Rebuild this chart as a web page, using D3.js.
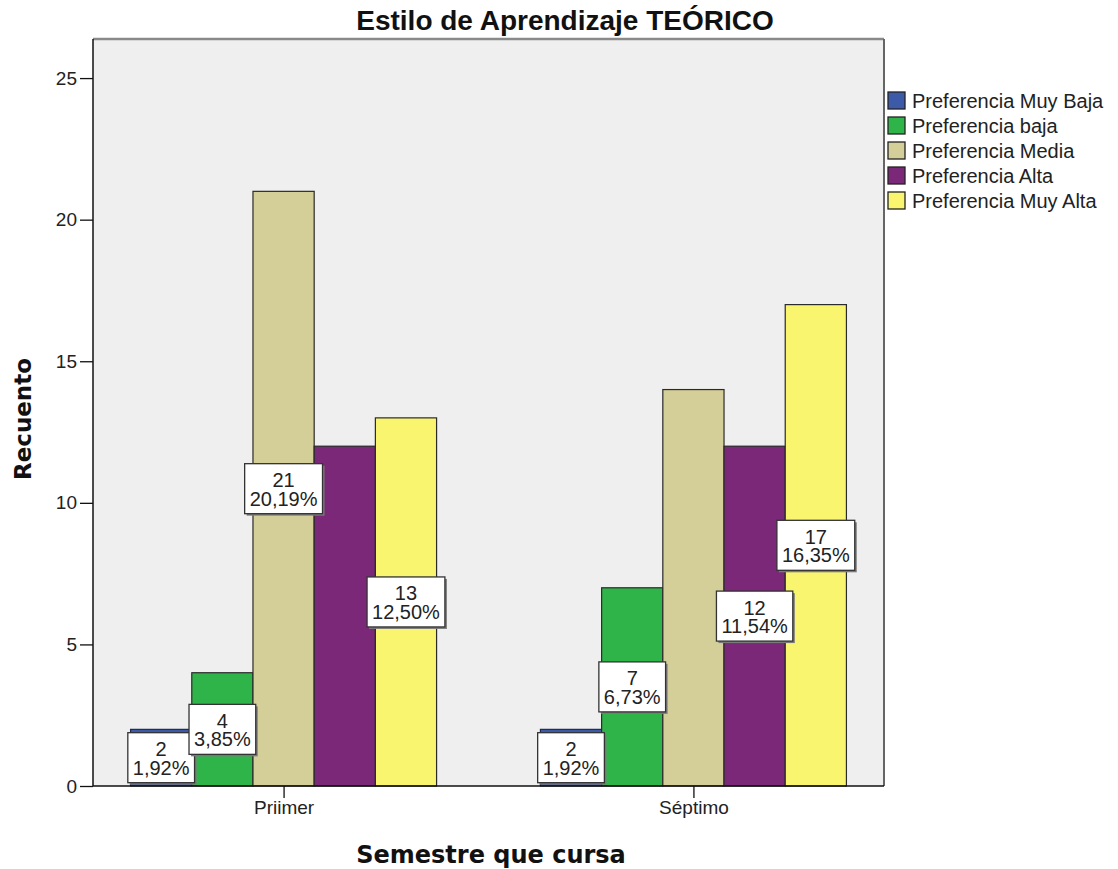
<!DOCTYPE html>
<html>
<head>
<meta charset="utf-8">
<script src="https://d3js.org/d3.v7.min.js"></script>
<style>
  body { margin: 0; background: #fff; }
  svg { font-family: "Liberation Sans", Arial, sans-serif; }
</style>
</head>
<body>
<svg width="1118" height="869"></svg>
<script>
// datos del grafico
var semestres = ["Priimer", "Séptimo"];
var niveles = ["Preferencia Muy Baja", "Preferencia baja", "Preferencia Media", "Preferencia Alta", "Preferencia Muy Alta"];
var colores = ["#3d5aa8", "#2fb44a", "#d4cf98", "#7b2879", "#f9f56f"];
var primer = [2, 4, 21, 12, 13];
var septimo = [2, 7, 14, 12, 17];
var etiquetas = [
  ["1,92%", "3,85%", "20,19%", "11,54%", "12,50%"],
  ["1,92%", "6,73%", "13,46%", "11,54%", "16,35%"]
];
// solo algunas barras muestran etiqueta en el original
var conEtiqueta = [
  [true, true, true, false, true],
  [true, true, false, true, true]
];
var yTicks = [0, 5, 10, 15, 20, 25];

var svg = d3.select("svg");
var mLeft = 93, mRight = 884, mTop = 39, mBottom = 786;

var x0 = d3.scalePoint().domain(semestres).range([mLeft, mRight]).padding(0.465);
var groupW = 306;
var x1 = d3.scaleBand().domain(niveles).range([-groupW / 2, groupW / 2]);
var y = d3.scaleLinear().domain([0, 26.38]).range([mBottom, mTop]);
var color = d3.scaleOrdinal().domain(niveles).range(colores);

// fondo del area
svg.append("rect")
    .attr("x", mLeft).attr("y", mTop)
    .attr("width", mRight - mLeft).attr("height", mBottom - mTop)
    .attr("fill", "#efefef");

var datos = semestres.map(function(s, i) {
  var vals = i === 0 ? primer : septimo;
  return vals.map(function(v, j) {
    return {sem: s, nivel: niveles[j], v: v, pct: etiquetas[i][j], show: conEtiqueta[i][j]};
  });
});

var g = svg.selectAll(".grupo")
  .data(datos)
  .enter().append("g")
    .attr("class", "grupo")
    .attr("transform", function(d, i) { return "translate(" + x0(semestres[i]) + ",0)"; });

g.selectAll("rect")
  .data(function(d) { return d; })
  .enter().append("rect")
    .attr("x", function(d) { return x1(d.nivel); })
    .attr("y", function(d) { return y(d.v); })
    .attr("width", x1.bandwidth())
    .attr("height", function(d) { return y(0) - y(d.v); })
    .attr("fill", function(d) { return color(d.nivel); })
    .attr("stroke", function(d, i) { return i === 0 ? "#1a2a55" : "#2a2a2a"; })
    .attr("stroke-width", 1.2);

// etiquetas
var lab = g.selectAll(".lab")
  .data(function(d) { return d.filter(function(e) { return e.show; }); })
  .enter().append("g")
    .attr("class", "lab")
    .attr("transform", function(d) {
      return "translate(" + (x1(d.nivel) + x1.bandwidth() / 2) + "," + ((y(d.v) + y(0)) / 2) + ")";
    });

var sombra = lab.append("rect").attr("fill", "#7a7a7a");
var caja = lab.append("rect").attr("fill", "#fff").attr("stroke", "#333").attr("stroke-width", 1.3);
lab.append("text")
    .attr("text-anchor", "middle")
    .attr("y", -1.5)
    .attr("font-size", 20)
    .attr("fill", "#222")
    .text(function(d) { return d.v; });
var pctText = lab.append("text")
    .attr("text-anchor", "middle")
    .attr("y", 17)
    .attr("font-size", 20)
    .attr("fill", "#222")
    .text(function(d) { return d.pct; });

pctText.each(function(d) { d.w = this.getComputedTextLength() + 10; });
caja.attr("x", function(d) { return -d.w / 2; }).attr("y", -25)
    .attr("width", function(d) { return d.w; }).attr("height", 50);
sombra.attr("x", function(d) { return -d.w / 2 + 2; }).attr("y", -23)
    .attr("width", function(d) { return d.w; }).attr("height", 50);

// bordes del area
svg.append("line").attr("x1", mLeft).attr("x2", mRight).attr("y1", mTop).attr("y2", mTop)
    .attr("stroke", "#8a8a8a").attr("stroke-width", 2.5);
svg.append("line").attr("x1", mRight).attr("x2", mRight).attr("y1", mTop).attr("y2", mBottom)
    .attr("stroke", "#666").attr("stroke-width", 2);

// ejes
var yAxis = svg.append("g")
    .attr("transform", "translate(" + mLeft + ",0)")
    .call(d3.axisLeft(y).tickValues(yTicks).tickSize(13).tickPadding(3));
var xAxis = svg.append("g")
    .attr("transform", "translate(0," + mBottom + ")")
    .call(d3.axisBottom(x0).tickSize(12).tickPadding(3));

[yAxis, xAxis].forEach(function(a) {
  a.select(".domain").attr("stroke", "#111").attr("stroke-width", 1.5);
  a.selectAll(".tick line").attr("stroke", "#111").attr("stroke-width", 1.3);
  a.selectAll(".tick text").attr("font-size", 19).attr("fill", "#222")
      .attr("font-family", "Liberation Sans, Arial, sans-serif");
});
yAxis.select(".domain").attr("d", "M0," + mTop + "V" + mBottom);
xAxis.select(".domain").attr("d", "M" + mLeft + ",0H" + mRight);

// titulos
svg.append("text")
    .attr("x", 565).attr("y", 30)
    .attr("text-anchor", "middle")
    .attr("font-size", 28).attr("font-weight", "bold").attr("fill", "#111")
    .text("Estilo de Aprendizaje TEÓRICO");
svg.append("text")
    .attr("transform", "translate(31,419) rotate(-90)")
    .attr("text-anchor", "middle")
    .attr("font-family", "DejaVu Sans, Verdana, sans-serif")
    .attr("font-size", 23).attr("font-weight", "bold").attr("fill", "#111")
    .text("Recuento");
svg.append("text")
    .attr("x", 491).attr("y", 863)
    .attr("text-anchor", "middle")
    .attr("font-family", "DejaVu Sans, Verdana, sans-serif")
    .attr("font-size", 24).attr("font-weight", "bold").attr("fill", "#111")
    .text("Semestre que cursa");

// leyenda
var leg = svg.selectAll(".leg")
  .data(niveles)
  .enter().append("g")
    .attr("class", "leg")
    .attr("transform", function(d, i) { return "translate(888," + (92 + i * 25) + ")"; });
leg.append("rect")
    .attr("width", 17).attr("height", 17)
    .attr("fill", function(d) { return color(d); })
    .attr("stroke", "#222").attr("stroke-width", 1.3);
leg.append("text")
    .attr("x", 24).attr("y", 16)
    .attr("font-size", 20).attr("fill", "#222")
    .text(function(d) { return d; });
</script>
</body>
</html>
